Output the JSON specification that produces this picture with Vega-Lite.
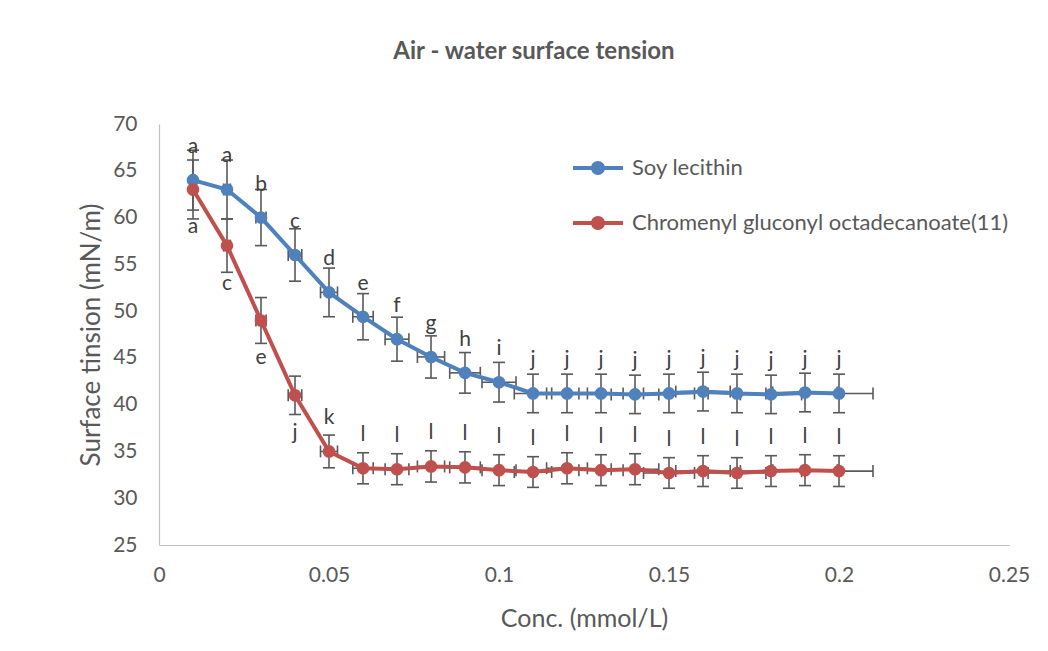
{
  "$schema": "https://vega.github.io/schema/vega-lite/v6.json",
  "autosize": {"type": "none"},
  "padding": {"left": 159, "top": 124, "right": 39, "bottom": 106},
  "width": 850,
  "height": 421,
  "background": "white",
  "title": {
    "text": "Air - water surface tension",
    "fontSize": 24,
    "fontWeight": "bold",
    "color": "#595959",
    "font": "Lato",
    "anchor": "middle",
    "dx": -50,
    "offset": 49
  },
  "config": {
    "view": {"stroke": null},
    "font": "Lato",
    "axis": {
      "grid": false,
      "ticks": false,
      "tickSize": 0,
      "domainColor": "#BFBFBF",
      "domainWidth": 1.2,
      "labelFont": "Lato",
      "labelFontSize": 21,
      "labelColor": "#595959",
      "titleFont": "Lato",
      "titleFontWeight": "normal",
      "titleColor": "#595959"
    }
  },
  "data": {
    "values": [
      {"series": "Soy lecithin", "x": 0.01, "y": 64.0, "ylo": 60.8, "yhi": 67.2, "xlo": 0.0095, "xhi": 0.0105, "label": "a", "pos": "above"},
      {"series": "Soy lecithin", "x": 0.02, "y": 63.0, "ylo": 59.85, "yhi": 66.15, "xlo": 0.019, "xhi": 0.021, "label": "a", "pos": "above"},
      {"series": "Soy lecithin", "x": 0.03, "y": 60.0, "ylo": 57.0, "yhi": 63.0, "xlo": 0.0285, "xhi": 0.0315, "label": "b", "pos": "above"},
      {"series": "Soy lecithin", "x": 0.04, "y": 56.0, "ylo": 53.2, "yhi": 58.8, "xlo": 0.038, "xhi": 0.042, "label": "c", "pos": "above"},
      {"series": "Soy lecithin", "x": 0.05, "y": 52.0, "ylo": 49.4, "yhi": 54.6, "xlo": 0.0475, "xhi": 0.0525, "label": "d", "pos": "above"},
      {"series": "Soy lecithin", "x": 0.06, "y": 49.4, "ylo": 46.93, "yhi": 51.87, "xlo": 0.057, "xhi": 0.063, "label": "e", "pos": "above"},
      {"series": "Soy lecithin", "x": 0.07, "y": 47.0, "ylo": 44.65, "yhi": 49.35, "xlo": 0.0665, "xhi": 0.0735, "label": "f", "pos": "above"},
      {"series": "Soy lecithin", "x": 0.08, "y": 45.1, "ylo": 42.845, "yhi": 47.355, "xlo": 0.076, "xhi": 0.084, "label": "g", "pos": "above"},
      {"series": "Soy lecithin", "x": 0.09, "y": 43.4, "ylo": 41.23, "yhi": 45.57, "xlo": 0.0855, "xhi": 0.0945, "label": "h", "pos": "above"},
      {"series": "Soy lecithin", "x": 0.10, "y": 42.4, "ylo": 40.28, "yhi": 44.52, "xlo": 0.095, "xhi": 0.105, "label": "i", "pos": "above"},
      {"series": "Soy lecithin", "x": 0.11, "y": 41.2, "ylo": 39.14, "yhi": 43.26, "xlo": 0.1045, "xhi": 0.1155, "label": "j", "pos": "above"},
      {"series": "Soy lecithin", "x": 0.12, "y": 41.2, "ylo": 39.14, "yhi": 43.26, "xlo": 0.114, "xhi": 0.126, "label": "j", "pos": "above"},
      {"series": "Soy lecithin", "x": 0.13, "y": 41.2, "ylo": 39.14, "yhi": 43.26, "xlo": 0.1235, "xhi": 0.1365, "label": "j", "pos": "above"},
      {"series": "Soy lecithin", "x": 0.14, "y": 41.1, "ylo": 39.045, "yhi": 43.155, "xlo": 0.133, "xhi": 0.147, "label": "j", "pos": "above"},
      {"series": "Soy lecithin", "x": 0.15, "y": 41.2, "ylo": 39.14, "yhi": 43.26, "xlo": 0.1425, "xhi": 0.1575, "label": "j", "pos": "above"},
      {"series": "Soy lecithin", "x": 0.16, "y": 41.4, "ylo": 39.33, "yhi": 43.47, "xlo": 0.152, "xhi": 0.168, "label": "j", "pos": "above"},
      {"series": "Soy lecithin", "x": 0.17, "y": 41.2, "ylo": 39.14, "yhi": 43.26, "xlo": 0.1615, "xhi": 0.1785, "label": "j", "pos": "above"},
      {"series": "Soy lecithin", "x": 0.18, "y": 41.1, "ylo": 39.045, "yhi": 43.155, "xlo": 0.171, "xhi": 0.189, "label": "j", "pos": "above"},
      {"series": "Soy lecithin", "x": 0.19, "y": 41.3, "ylo": 39.235, "yhi": 43.365, "xlo": 0.1805, "xhi": 0.1995, "label": "j", "pos": "above"},
      {"series": "Soy lecithin", "x": 0.20, "y": 41.2, "ylo": 39.14, "yhi": 43.26, "xlo": 0.19, "xhi": 0.21, "label": "j", "pos": "above"},
      {"series": "Chromenyl gluconyl octadecanoate(11)", "x": 0.01, "y": 63.0, "ylo": 59.85, "yhi": 66.15, "xlo": 0.0095, "xhi": 0.0105, "label": "a", "pos": "below"},
      {"series": "Chromenyl gluconyl octadecanoate(11)", "x": 0.02, "y": 57.0, "ylo": 54.15, "yhi": 59.85, "xlo": 0.019, "xhi": 0.021, "label": "c", "pos": "below"},
      {"series": "Chromenyl gluconyl octadecanoate(11)", "x": 0.03, "y": 49.0, "ylo": 46.55, "yhi": 51.45, "xlo": 0.0285, "xhi": 0.0315, "label": "e", "pos": "below"},
      {"series": "Chromenyl gluconyl octadecanoate(11)", "x": 0.04, "y": 41.0, "ylo": 38.95, "yhi": 43.05, "xlo": 0.038, "xhi": 0.042, "label": "j", "pos": "below"},
      {"series": "Chromenyl gluconyl octadecanoate(11)", "x": 0.05, "y": 35.0, "ylo": 33.25, "yhi": 36.75, "xlo": 0.0475, "xhi": 0.0525, "label": "k", "pos": "above"},
      {"series": "Chromenyl gluconyl octadecanoate(11)", "x": 0.06, "y": 33.2, "ylo": 31.54, "yhi": 34.86, "xlo": 0.057, "xhi": 0.063, "label": "l", "pos": "above"},
      {"series": "Chromenyl gluconyl octadecanoate(11)", "x": 0.07, "y": 33.1, "ylo": 31.445, "yhi": 34.755, "xlo": 0.0665, "xhi": 0.0735, "label": "l", "pos": "above"},
      {"series": "Chromenyl gluconyl octadecanoate(11)", "x": 0.08, "y": 33.4, "ylo": 31.73, "yhi": 35.07, "xlo": 0.076, "xhi": 0.084, "label": "l", "pos": "above"},
      {"series": "Chromenyl gluconyl octadecanoate(11)", "x": 0.09, "y": 33.3, "ylo": 31.635, "yhi": 34.965, "xlo": 0.0855, "xhi": 0.0945, "label": "l", "pos": "above"},
      {"series": "Chromenyl gluconyl octadecanoate(11)", "x": 0.10, "y": 33.0, "ylo": 31.35, "yhi": 34.65, "xlo": 0.095, "xhi": 0.105, "label": "l", "pos": "above"},
      {"series": "Chromenyl gluconyl octadecanoate(11)", "x": 0.11, "y": 32.8, "ylo": 31.16, "yhi": 34.44, "xlo": 0.1045, "xhi": 0.1155, "label": "l", "pos": "above"},
      {"series": "Chromenyl gluconyl octadecanoate(11)", "x": 0.12, "y": 33.2, "ylo": 31.54, "yhi": 34.86, "xlo": 0.114, "xhi": 0.126, "label": "l", "pos": "above"},
      {"series": "Chromenyl gluconyl octadecanoate(11)", "x": 0.13, "y": 33.0, "ylo": 31.35, "yhi": 34.65, "xlo": 0.1235, "xhi": 0.1365, "label": "l", "pos": "above"},
      {"series": "Chromenyl gluconyl octadecanoate(11)", "x": 0.14, "y": 33.1, "ylo": 31.445, "yhi": 34.755, "xlo": 0.133, "xhi": 0.147, "label": "l", "pos": "above"},
      {"series": "Chromenyl gluconyl octadecanoate(11)", "x": 0.15, "y": 32.7, "ylo": 31.065, "yhi": 34.335, "xlo": 0.1425, "xhi": 0.1575, "label": "l", "pos": "above"},
      {"series": "Chromenyl gluconyl octadecanoate(11)", "x": 0.16, "y": 32.9, "ylo": 31.255, "yhi": 34.545, "xlo": 0.152, "xhi": 0.168, "label": "l", "pos": "above"},
      {"series": "Chromenyl gluconyl octadecanoate(11)", "x": 0.17, "y": 32.7, "ylo": 31.065, "yhi": 34.335, "xlo": 0.1615, "xhi": 0.1785, "label": "l", "pos": "above"},
      {"series": "Chromenyl gluconyl octadecanoate(11)", "x": 0.18, "y": 32.9, "ylo": 31.255, "yhi": 34.545, "xlo": 0.171, "xhi": 0.189, "label": "l", "pos": "above"},
      {"series": "Chromenyl gluconyl octadecanoate(11)", "x": 0.19, "y": 33.0, "ylo": 31.35, "yhi": 34.65, "xlo": 0.1805, "xhi": 0.1995, "label": "l", "pos": "above"},
      {"series": "Chromenyl gluconyl octadecanoate(11)", "x": 0.20, "y": 32.9, "ylo": 31.255, "yhi": 34.545, "xlo": 0.19, "xhi": 0.21, "label": "l", "pos": "above"}
    ]
  },
  "layer": [
    {
      "mark": {"type": "rule", "color": "#595959", "strokeWidth": 1.6},
      "encoding": {
        "x": {"field": "x", "type": "quantitative", "title": "Conc. (mmol/L)",
          "scale": {"domain": [0, 0.25], "nice": false, "zero": false},
          "axis": {"values": [0, 0.05, 0.1, 0.15, 0.2, 0.25], "format": "~g", "labelPadding": 19, "titlePadding": 21, "titleFontSize": 25, "labelFlush": false}},
        "y": {"field": "ylo", "type": "quantitative", "title": "Surface tinsion (mN/m)",
          "scale": {"domain": [25, 70], "nice": false, "zero": false},
          "axis": {"values": [25, 30, 35, 40, 45, 50, 55, 60, 65, 70], "labelPadding": 22, "titlePadding": 8, "titleFontSize": 26}},
        "y2": {"field": "yhi"}
      }
    },
    {
      "mark": {"type": "rule", "color": "#595959", "strokeWidth": 1.6},
      "encoding": {
        "x": {"field": "xlo", "type": "quantitative", "title": "Conc. (mmol/L)"},
        "x2": {"field": "xhi"},
        "y": {"field": "y", "type": "quantitative", "title": "Surface tinsion (mN/m)"}
      }
    },
    {
      "transform": [{"fold": ["ylo", "yhi"], "as": ["capkey", "capval"]}],
      "mark": {"type": "tick", "color": "#595959", "orient": "horizontal", "size": 12, "thickness": 1.6, "opacity": 1},
      "encoding": {
        "x": {"field": "x", "type": "quantitative", "title": "Conc. (mmol/L)"},
        "y": {"field": "capval", "type": "quantitative", "title": "Surface tinsion (mN/m)"}
      }
    },
    {
      "transform": [{"fold": ["xlo", "xhi"], "as": ["capkey", "capval"]}],
      "mark": {"type": "tick", "color": "#595959", "orient": "vertical", "size": 12, "thickness": 1.6, "opacity": 1},
      "encoding": {
        "x": {"field": "capval", "type": "quantitative", "title": "Conc. (mmol/L)"},
        "y": {"field": "y", "type": "quantitative", "title": "Surface tinsion (mN/m)"}
      }
    },
    {
      "mark": {"type": "line", "strokeWidth": 4},
      "encoding": {
        "x": {"field": "x", "type": "quantitative", "title": "Conc. (mmol/L)"},
        "y": {"field": "y", "type": "quantitative", "title": "Surface tinsion (mN/m)"},
        "color": {"field": "series", "type": "nominal",
          "scale": {"domain": ["Soy lecithin", "Chromenyl gluconyl octadecanoate(11)"], "range": ["#4F81BD", "#C0504D"]},
          "legend": {
            "title": null,
            "orient": "none",
            "legendX": 414,
            "legendY": 19,
            "padding": 0,
            "symbolType": "M-1,-0.08 L1,-0.08 L1,0.08 L-1,0.08 Z M-0.28,0 A0.28,0.28 0 1,1 0.28,0 A0.28,0.28 0 1,1 -0.28,0 Z",
            "symbolSize": 2500,
            "symbolStrokeWidth": 0,
            "symbolOpacity": 1,
            "rowPadding": 19,
            "labelOffset": 9,
            "labelFont": "Lato",
            "labelFontSize": 22,
            "labelColor": "#595959",
            "labelLimit": 600,
            "encode": {"symbols": {"update": {"fill": {"scale": "color", "field": "value"}, "strokeWidth": {"value": 0}}}}
          }}
      }
    },
    {
      "mark": {"type": "point", "filled": true, "size": 160, "opacity": 1},
      "encoding": {
        "x": {"field": "x", "type": "quantitative", "title": "Conc. (mmol/L)"},
        "y": {"field": "y", "type": "quantitative", "title": "Surface tinsion (mN/m)"},
        "color": {"field": "series", "type": "nominal"}
      }
    },
    {
      "transform": [{"filter": "datum.pos === 'above'"}],
      "mark": {"type": "text", "dy": -33, "fontSize": 21, "font": "Lato", "color": "#404040", "baseline": "middle"},
      "encoding": {
        "x": {"field": "x", "type": "quantitative", "title": "Conc. (mmol/L)"},
        "y": {"field": "y", "type": "quantitative", "title": "Surface tinsion (mN/m)"},
        "text": {"field": "label"}
      }
    },
    {
      "transform": [{"filter": "datum.pos === 'below'"}],
      "mark": {"type": "text", "dy": 38, "fontSize": 21, "font": "Lato", "color": "#404040", "baseline": "middle"},
      "encoding": {
        "x": {"field": "x", "type": "quantitative", "title": "Conc. (mmol/L)"},
        "y": {"field": "y", "type": "quantitative", "title": "Surface tinsion (mN/m)"},
        "text": {"field": "label"}
      }
    }
  ]
}
